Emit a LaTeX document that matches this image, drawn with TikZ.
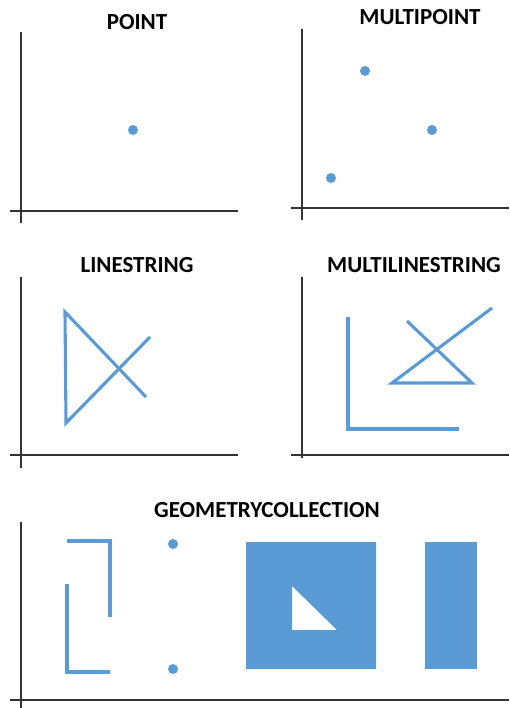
\documentclass[tikz,border=0pt]{standalone}
\usepackage{fontspec}
\setmainfont{Carlito}
\usepackage{tikz}
\usetikzlibrary{positioning}
\definecolor{geoblue}{HTML}{5B9BD5}
\tikzstyle{axis} = [draw=black!80, line width=1.6pt]
\tikzstyle{title} = [font=\bfseries\fontsize{23}{26}\selectfont, inner sep=0pt]
\tikzstyle{geoline} = [draw=geoblue, line width=3.1pt, line join=miter]
\tikzstyle{geodot} = [fill=geoblue]
\tikzstyle{geoarea} = [fill=geoblue]

\begin{document}
\begin{tikzpicture}[x=1pt, y=-1pt]
  \useasboundingbox (0,0) rectangle (509,708);
  % Titles
  \node[title](tpoint) at (137,22){POINT};
  \node[title](tmpoint) at (420,17){MULTIPOINT};
  \node[title](tline) at (137,265){LINESTRING};
  \node[title](tmline) at (414,265){MULTILINESTRING};
  \node[title](tcoll) at (267,510){GEOMETRYCOLLECTION};

  % Axes
  \draw[axis](21,32) -- (21,223);
  \draw[axis](10,211) -- (238,211);
  \draw[axis](302,29) -- (302,220);
  \draw[axis](291,208) -- (509,208);
  \draw[axis](21,277) -- (21,468);
  \draw[axis](10,455) -- (238,455);
  \draw[axis](302,277) -- (302,458);
  \draw[axis](291,455) -- (509,455);
  \draw[axis](21,522) -- (21,708);
  \draw[axis](10,700) -- (509,700);

  % Point
  \fill[geodot](133,130) circle (5);
  % Multipoint
  \fill[geodot](365,71) circle (5);
  \fill[geodot](432,130) circle (5);
  \fill[geodot](331,178) circle (5);
  % Linestring
  \draw[geoline](150,337) -- (66,423) -- (65,312) -- (146,397);
  % Multilinestring
  \draw[geoline](348,317) -- (348,429) -- (459,429);
  \draw[geoline](492,308) -- (392,383) -- (472,383) -- (407,321);

  % Geometry collection
  \draw[geoline](67,541) -- (110,541) -- (110,617);
  \draw[geoline](67,584) -- (67,672) -- (110,672);
  \fill[geodot](173,544) circle (5);
  \fill[geodot](173,669) circle (5);
  \path[geoarea, even odd rule](246,542) rectangle (376,669)
    (292,586) -- (292,630) -- (337,630) -- cycle;
  \path[geoarea](425,542) rectangle (477,669);
\end{tikzpicture}
\end{document}
